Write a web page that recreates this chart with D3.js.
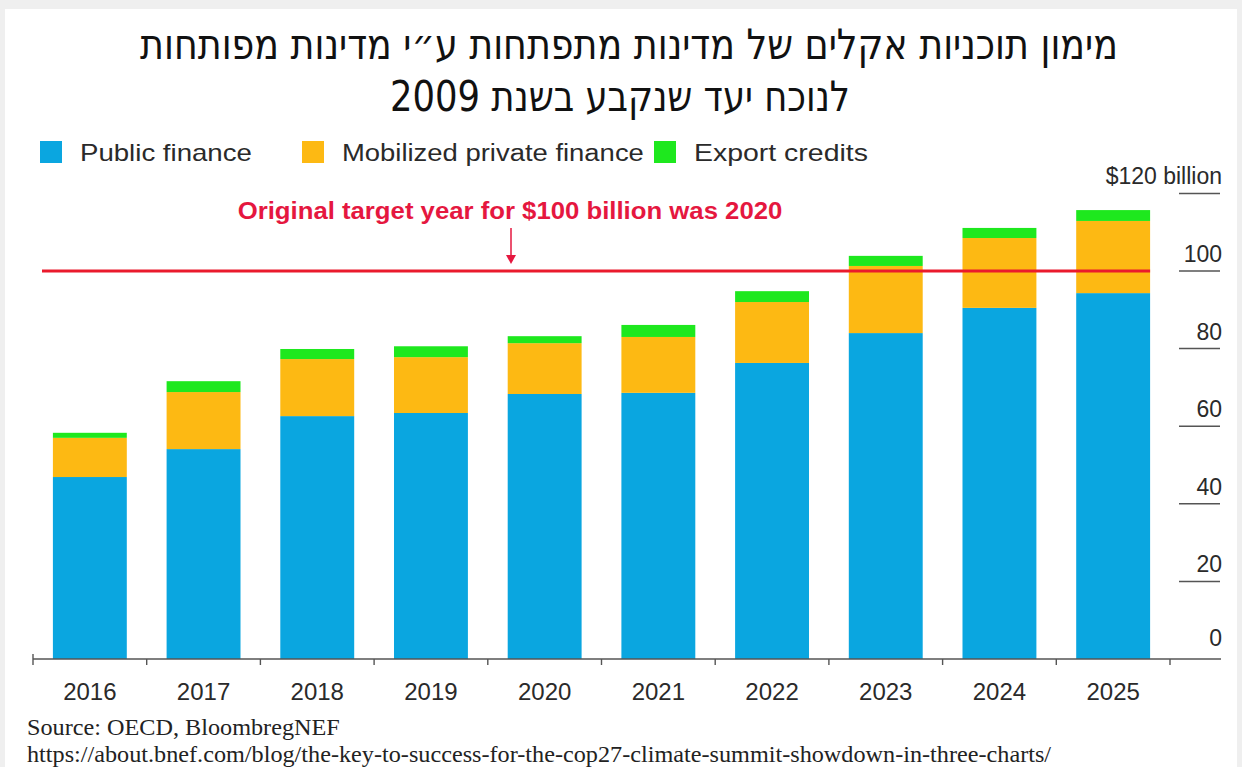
<!DOCTYPE html>
<html>
<head>
<meta charset="utf-8">
<script src="https://cdn.jsdelivr.net/npm/d3@7"></script>
<style>
  html, body { margin: 0; padding: 0; background: #efefef; }
  svg { display: block; }
</style>
</head>
<body>
<svg id="chart" width="1242" height="767"></svg>
<script>
// ---------- data ----------
const years = ["2016", "2017", "2018", "2019", "2020", "2021", "2022", "2023", "2024", "2025"];
const publicFinance  = [46.9, 54.1, 62.6, 63.4, 68.3, 68.6, 76.3, 84.0, 90.5, 94.3];
const privateFinance = [10.1, 14.7, 14.7, 14.4, 13.1, 14.4, 15.7, 17.3, 18.0, 18.6];
const exportCredits  = [1.3, 2.8, 2.6, 2.8, 1.8, 3.1, 2.8, 2.6, 2.6, 2.8];
const seriesNames = ["Public finance", "Mobilized private finance", "Export credits"];
const yTicks = [0, 20, 40, 60, 80, 100, 120];
const yTickLabels = ["0", "20", "40", "60", "80", "100", "$120 billion"];
const targetValue = 100;
const titleLines = ["מימון תוכניות אקלים של מדינות מתפתחות ע״י מדינות מפותחות", "לנוכח יעד שנקבע בשנת 2009"];
const annotationText = "Original target year  for $100 billion was 2020";
const sourceLines = ["Source:  OECD, BloombregNEF", "https://about.bnef.com/blog/the-key-to-success-for-the-cop27-climate-summit-showdown-in-three-charts/"];

// ---------- setup ----------
const colors = ["#0aa6e0", "#fdb913", "#1ee81e"];
const svg = d3.select("#chart");
const sans = "'Liberation Sans', Arial, Helvetica, sans-serif";

svg.append("rect").attr("x", 5).attr("y", 9).attr("width", 1232).attr("height", 758).attr("fill", "#ffffff");

const rows = years.map((y, i) => ({ year: y, pub: publicFinance[i], priv: privateFinance[i], exp: exportCredits[i] }));
const stack = d3.stack().keys(["pub", "priv", "exp"]);
const stacked = stack(rows);

const x = d3.scaleBand().domain(years).range([33, 1170]).paddingInner(0.35).paddingOuter(0.175);
const y = d3.scaleLinear().domain([0, 120]).range([659, 193.4]);

// helper: squeeze text horizontally to a target width
function fitX(sel, targetW, anchorX) {
  const bw = sel.node().getBBox().width;
  const s = targetW / bw;
  sel.attr("transform", `translate(${anchorX},0) scale(${s},1) translate(${-anchorX},0)`);
}

// ---------- title ----------
const titleFont = "'DejaVu Sans Condensed', 'DejaVu Sans', sans-serif";
const tl1 = svg.append("text").attr("x", 629).attr("y", 59).attr("text-anchor", "middle")
  .attr("font-family", titleFont).attr("font-size", 42).attr("font-weight", 500)
  .attr("fill", "#111").attr("direction", "rtl").text(titleLines[0]);
fitX(tl1, 978, 629);
const tl2 = svg.append("text").attr("x", 620).attr("y", 111).attr("text-anchor", "middle")
  .attr("font-family", titleFont).attr("font-size", 42).attr("font-weight", 500)
  .attr("fill", "#111").attr("direction", "rtl").text(titleLines[1]);
fitX(tl2, 460, 620);

// ---------- legend ----------
const legendX = [40, 302, 654];
const legendTextW = [172, 302, 174];
seriesNames.forEach((name, i) => {
  svg.append("rect").attr("x", legendX[i]).attr("y", 141).attr("width", 22).attr("height", 22).attr("fill", colors[i]);
  const t = svg.append("text").attr("x", legendX[i] + 40).attr("y", 161)
    .attr("font-family", sans).attr("font-size", 24).attr("fill", "#2a2a2a").text(name);
  fitX(t, legendTextW[i], legendX[i] + 40);
});

// ---------- bars ----------
svg.append("g").selectAll("g").data(stacked).join("g")
  .attr("fill", (d, i) => colors[i])
  .selectAll("rect").data(d => d).join("rect")
  .attr("x", d => x(d.data.year))
  .attr("width", x.bandwidth())
  .attr("y", d => y(d[1]))
  .attr("height", d => y(d[0]) - y(d[1]));

// ---------- target line & annotation ----------
svg.append("line")
  .attr("x1", 42).attr("x2", x(years[years.length - 1]) + x.bandwidth())
  .attr("y1", y(targetValue)).attr("y2", y(targetValue))
  .attr("stroke", "#ea1a2c").attr("stroke-width", 3);

const ann = svg.append("text").attr("x", 510).attr("y", 219).attr("text-anchor", "middle")
  .attr("font-family", sans).attr("font-weight", "bold").attr("font-size", 23)
  .attr("fill", "#e5173f").text(annotationText);
fitX(ann, 545, 510);

svg.append("line").attr("x1", 511).attr("x2", 511).attr("y1", 228).attr("y2", 262)
  .attr("stroke", "#e5173f").attr("stroke-width", 1.5);
svg.append("path").attr("d", "M506,255 L511,264 L516,255 Z").attr("fill", "#e5173f");

// ---------- x axis ----------
const xAxisG = svg.append("g");
xAxisG.append("line").attr("x1", 33).attr("x2", 1221).attr("y1", 659).attr("y2", 659)
  .attr("stroke", "#555").attr("stroke-width", 1.6);
const boundaries = years.map(yr => x(yr) - x.step() * x.paddingInner() / 2);
boundaries.push(x(years[years.length - 1]) + x.bandwidth() + x.step() * x.paddingInner() / 2);
xAxisG.selectAll("line.tick").data(boundaries).join("line").attr("class", "tick")
  .attr("x1", d => d).attr("x2", d => d).attr("y1", (d, i) => i === 0 ? 654 : 659).attr("y2", 665)
  .attr("stroke", "#555").attr("stroke-width", 1.4);
xAxisG.selectAll("text").data(years).join("text")
  .attr("x", d => x(d) + x.bandwidth() / 2).attr("y", 700)
  .attr("text-anchor", "middle").attr("font-family", sans).attr("font-size", 24)
  .attr("fill", "#2a2a2a").text(d => d);

// ---------- y axis (right) ----------
const yAxisG = svg.append("g");
yAxisG.selectAll("text").data(yTicks).join("text")
  .attr("x", 1222).attr("y", d => y(d) - (d === 0 ? 13 : 9))
  .attr("text-anchor", "end").attr("font-family", sans).attr("font-size", 23)
  .attr("font-weight", d => d === 120 ? 500 : 400)
  .attr("fill", "#2a2a2a").text((d, i) => yTickLabels[i]);
yAxisG.selectAll("line").data(yTicks.filter(d => d > 0)).join("line")
  .attr("x1", 1179).attr("x2", 1220).attr("y1", d => y(d)).attr("y2", d => y(d))
  .attr("stroke", "#555").attr("stroke-width", 1.5);

// ---------- source ----------
const serif = "'Liberation Serif', 'Times New Roman', serif";
const s1 = svg.append("text").attr("x", 27).attr("y", 735).attr("font-family", serif)
  .attr("font-size", 23).attr("fill", "#222").text(sourceLines[0]);
fitX(s1, 313, 27);
const s2 = svg.append("text").attr("x", 27).attr("y", 762).attr("font-family", serif)
  .attr("font-size", 23).attr("fill", "#222").text(sourceLines[1]);
fitX(s2, 1025, 27);
</script>
</body>
</html>
